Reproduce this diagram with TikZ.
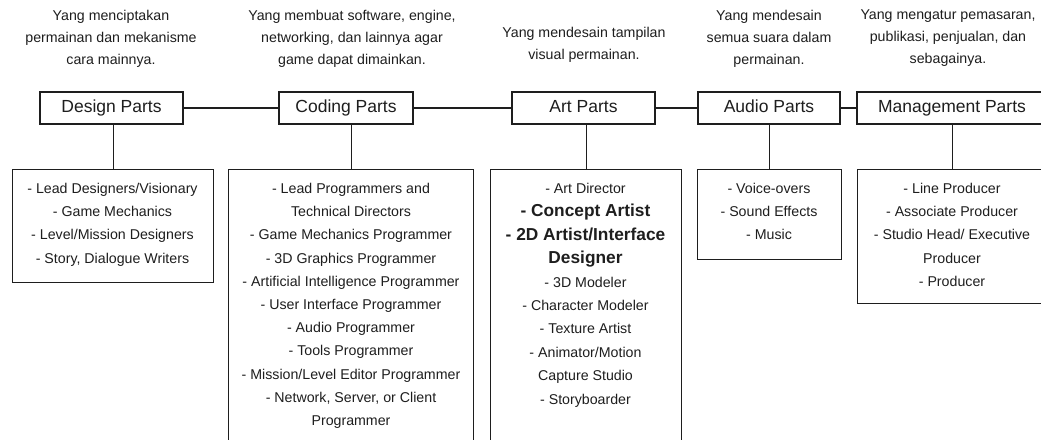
\documentclass[tikz,border=0pt]{standalone}
\usepackage{fontspec}
\setmainfont{Liberation Sans}
\definecolor{ink}{RGB}{30,30,30}
\begin{document}
\begin{tikzpicture}[x=1pt,y=-1pt,
  part/.style={draw=ink, text=ink, line width=1.1pt, minimum height=32pt, inner sep=0pt, text height=12.6pt, text depth=3.6pt, font=\fontsize{17.5}{21}\selectfont},
  listbox/.style={draw=ink, line width=1.1pt, anchor=north west, inner sep=0pt},
  desc/.style={align=center, anchor=north, inner sep=0pt, text=ink, font=\fontsize{14.2}{22}\selectfont},
  items/.style={align=center, anchor=north, inner sep=0pt, text=ink, font=\fontsize{14.2}{23.2}\selectfont},
  link/.style={draw=ink, line width=1.1pt}]
\useasboundingbox (0,0) rectangle (1041,439);
\clip (0,0) rectangle (1041,439);
\fill[white] (0,0) rectangle (1041,439);

% descriptions
\node[desc] (designdesc) at (111,10) {Yang menciptakan\\permainan dan mekanisme\\cara mainnya.};
\node[desc] (codingdesc) at (352,10) {Yang membuat software, engine,\\networking, dan lainnya agar\\game dapat dimainkan.};
\node[desc] (artdesc) at (584,27) {Yang mendesain tampilan\\visual permainan.};
\node[desc] (audiodesc) at (769,10) {Yang mendesain\\semua suara dalam\\permainan.};
\node[desc] (mgmtdesc) at (948,10) {Yang mengatur pemasaran,\\publikasi, penjualan, dan\\sebagainya.};

% top boxes
\node[part, minimum width=143pt] (design) at (111.5,108) {Design Parts};
\node[part, minimum width=134pt] (coding) at (346,108) {Coding Parts};
\node[part, minimum width=143pt] (art) at (583.5,108) {Art Parts};
\node[part, minimum width=142pt] (audio) at (769,108) {Audio Parts};
\node[part, minimum width=190pt] (mgmt) at (952,108) {Management Parts};

\draw[link] (design) -- (coding);
\draw[link] (coding) -- (art);
\draw[link] (art) -- (audio);
\draw[link] (audio) -- (mgmt);

% lower boxes
\node[listbox, minimum width=201pt, minimum height=113pt] (designlist) at (12,169) {};
\node[listbox, minimum width=245pt, minimum height=300pt] (codinglist) at (228,169) {};
\node[listbox, minimum width=191pt, minimum height=300pt] (artlist) at (490,169) {};
\node[listbox, minimum width=144pt, minimum height=90pt] (audiolist) at (697,169) {};
\node[listbox, minimum width=190pt, minimum height=134pt] (mgmtlist) at (857,169) {};

\draw[link] (designlist.north) -- (designlist.north |- design.south);
\draw[link] (codinglist.north) -- (codinglist.north |- coding.south);
\draw[link] (artlist.north) -- (artlist.north |- art.south);
\draw[link] (audiolist.north) -- (audiolist.north |- audio.south);
\draw[link] (mgmtlist.north) -- (mgmtlist.north |- mgmt.south);

% list texts
\node[items] (designitems) at (112.5,183) {- Lead Designers/Visionary\\- Game Mechanics\\- Level/Mission Designers\\- Story, Dialogue Writers};
\node[items] (codingitems) at (351,183) {- Lead Programmers and\\Technical Directors\\- Game Mechanics Programmer\\- 3D Graphics Programmer\\- Artificial Intelligence Programmer\\- User Interface Programmer\\- Audio Programmer\\- Tools Programmer\\- Mission/Level Editor Programmer\\- Network, Server, or Client\\Programmer};
\node[items, font=\fontsize{14.2}{23.4}\selectfont] (artitems) at (585.5,183) {- Art Director\\{\bfseries\fontsize{17.3}{23.4}\selectfont - Concept Artist}\\{\bfseries\fontsize{17.3}{23.4}\selectfont - 2D Artist/Interface}\\{\bfseries\fontsize{17.3}{23.4}\selectfont Designer}\\- 3D Modeler\\- Character Modeler\\- Texture Artist\\- Animator/Motion\\Capture Studio\\- Storyboarder};
\node[items] (audioitems) at (769,183) {- Voice-overs\\- Sound Effects\\- Music};
\node[items] (mgmtitems) at (952,183) {- Line Producer\\- Associate Producer\\- Studio Head/ Executive\\Producer\\- Producer};
\end{tikzpicture}
\end{document}
